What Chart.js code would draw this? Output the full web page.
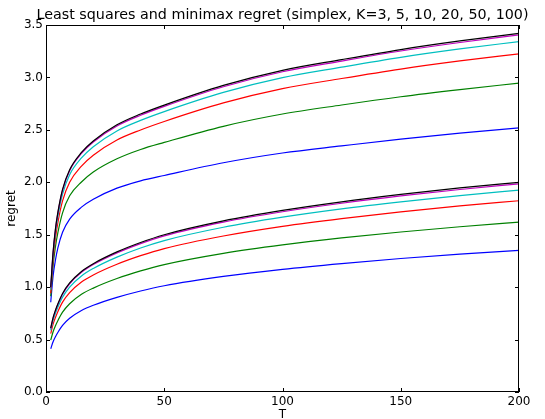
<!DOCTYPE html>
<html>
<head>
<meta charset="utf-8">
<script src="https://cdn.jsdelivr.net/npm/chart.js@4/dist/chart.umd.min.js"></script>
<style>
  html, body { margin: 0; padding: 0; background: #fff; }
  #wrap { width: 545px; height: 419px; }
</style>
</head>
<body>
<div id="wrap"><canvas id="chart" width="545" height="419"></canvas></div>
<script>
// horizon T where the regret was evaluated
const T = [2, 3, 4, 5, 7, 10, 15, 20, 30, 40, 50, 75, 100, 125, 150, 175, 200];

const Ks = [3, 5, 10, 20, 50, 100];
const colors = ['#0000ff', '#008000', '#ff0000', '#00bfbf', '#bf00bf', '#000000'];
const titleText = 'Least squares and minimax regret (simplex, K=3, 5, 10, 20, 50, 100)';

// least squares regret (upper bundle)
const lsK3   = [0.856, 1.108, 1.259, 1.372, 1.523, 1.649, 1.763, 1.838, 1.944, 2.014, 2.065, 2.186, 2.279, 2.347, 2.412, 2.468, 2.518];
const lsK5   = [0.913, 1.208, 1.385, 1.517, 1.709, 1.871, 2.003, 2.098, 2.224, 2.313, 2.380, 2.534, 2.651, 2.737, 2.816, 2.884, 2.946];
const lsK10  = [0.942, 1.258, 1.467, 1.613, 1.822, 2.000, 2.154, 2.258, 2.403, 2.499, 2.580, 2.757, 2.893, 2.990, 3.080, 3.157, 3.225];
const lsK20  = [0.976, 1.303, 1.521, 1.671, 1.888, 2.072, 2.232, 2.339, 2.490, 2.590, 2.674, 2.857, 2.998, 3.098, 3.192, 3.272, 3.342];
const lsK50  = [0.994, 1.328, 1.549, 1.703, 1.924, 2.111, 2.275, 2.384, 2.537, 2.639, 2.724, 2.911, 3.054, 3.156, 3.252, 3.333, 3.405];
const lsK100 = [0.999, 1.334, 1.556, 1.710, 1.932, 2.120, 2.285, 2.394, 2.548, 2.651, 2.736, 2.924, 3.068, 3.170, 3.266, 3.348, 3.420];

// minimax regret (lower bundle)
const mmK3   = [0.412, 0.480, 0.527, 0.567, 0.635, 0.703, 0.777, 0.827, 0.902, 0.963, 1.013, 1.102, 1.170, 1.225, 1.273, 1.315, 1.351];
const mmK5   = [0.494, 0.575, 0.632, 0.680, 0.761, 0.842, 0.932, 0.991, 1.082, 1.155, 1.215, 1.322, 1.403, 1.469, 1.526, 1.576, 1.620];
const mmK10  = [0.556, 0.648, 0.711, 0.766, 0.857, 0.948, 1.049, 1.116, 1.218, 1.300, 1.368, 1.488, 1.580, 1.654, 1.718, 1.775, 1.824];
const mmK20  = [0.587, 0.683, 0.751, 0.809, 0.905, 1.001, 1.107, 1.178, 1.286, 1.373, 1.444, 1.571, 1.667, 1.746, 1.813, 1.873, 1.925];
const mmK50  = [0.605, 0.705, 0.774, 0.834, 0.933, 1.032, 1.141, 1.215, 1.326, 1.415, 1.489, 1.620, 1.719, 1.800, 1.870, 1.931, 1.985];
const mmK100 = [0.610, 0.710, 0.780, 0.840, 0.940, 1.040, 1.150, 1.224, 1.336, 1.426, 1.500, 1.632, 1.732, 1.814, 1.884, 1.946, 2.000];

const yTicks = [0, 0.5, 1, 1.5, 2, 2.5, 3, 3.5];
const xTicks = [0, 50, 100, 150, 200];

const lsSeries = [lsK3, lsK5, lsK10, lsK20, lsK50, lsK100];
const mmSeries = [mmK3, mmK5, mmK10, mmK20, mmK50, mmK100];

Chart.defaults.font.family = '"DejaVu Sans", sans-serif';
Chart.defaults.color = '#000';

const makeSet = (vals, i, name) => ({
  label: name + ' K=' + Ks[i],
  data: vals.map((v, j) => ({ x: T[j], y: v })),
  borderColor: colors[i],
  borderWidth: 1.2,
  pointRadius: 0,
  fill: false,
  cubicInterpolationMode: 'monotone',
});

const datasets = [];
lsSeries.forEach((s, i) => datasets.push(makeSet(s, i, 'least squares')));
mmSeries.forEach((s, i) => datasets.push(makeSet(s, i, 'minimax')));
// later datasets on top, like matplotlib
datasets.forEach((d, i) => { d.order = datasets.length - i; });

// box around the axes, inward ticks on all four sides, title centred over the axes
const frameTicks = {
  id: 'frameTicks',
  afterDatasetsDraw(chart) {
    const { ctx, chartArea: a, scales } = chart;
    const len = 4;
    ctx.save();
    ctx.strokeStyle = '#000';
    ctx.lineWidth = 1;
    ctx.beginPath();
    xTicks.forEach(v => {
      const px = Math.round(scales.x.getPixelForValue(v)) + 0.5;
      ctx.moveTo(px, a.bottom); ctx.lineTo(px, a.bottom - len);
      ctx.moveTo(px, a.top); ctx.lineTo(px, a.top + len);
    });
    yTicks.forEach(v => {
      const py = Math.round(scales.y.getPixelForValue(v)) + 0.5;
      ctx.moveTo(a.left, py); ctx.lineTo(a.left + len, py);
      ctx.moveTo(a.right, py); ctx.lineTo(a.right - len, py);
    });
    ctx.stroke();
    ctx.strokeRect(a.left + 0.5, a.top + 0.5, a.right - a.left - 1, a.bottom - a.top - 1);

    ctx.fillStyle = '#000';
    ctx.font = '14.3px "DejaVu Sans", sans-serif';
    ctx.textAlign = 'center';
    ctx.textBaseline = 'alphabetic';
    ctx.fillText(titleText, (a.left + a.right) / 2, 18.5);
    ctx.restore();
  }
};

new Chart(document.getElementById('chart').getContext('2d'), {
  type: 'line',
  data: { datasets },
  options: {
    responsive: false,
    animation: false,
    layout: { padding: { top: 25, right: 26, bottom: 0, left: 0 } },
    plugins: {
      legend: { display: false },
      tooltip: { enabled: false },
      title: { display: false },
    },
    scales: {
      x: {
        type: 'linear',
        min: 0,
        max: 200,
        grid: { display: false, drawTicks: false },
        border: { display: false },
        ticks: { stepSize: 50, padding: 3, font: { size: 12 }, color: '#000', maxRotation: 0 },
        title: { display: true, text: 'T', font: { size: 12 }, color: '#000', padding: { top: 0, bottom: -3 } },
        afterFit: (scale) => { scale.height = 27; },
      },
      y: {
        min: 0,
        max: 3.5,
        grid: { display: false, drawTicks: false },
        border: { display: false },
        ticks: {
          stepSize: 0.5,
          padding: 3,
          font: { size: 12 },
          color: '#000',
          callback: (v) => v.toFixed(1),
        },
        title: { display: true, text: 'regret', font: { size: 12 }, color: '#000', padding: { top: 5, bottom: 0 } },
        afterFit: (scale) => { scale.width = 46; },
      },
    },
  },
  plugins: [frameTicks],
});
</script>
</body>
</html>
